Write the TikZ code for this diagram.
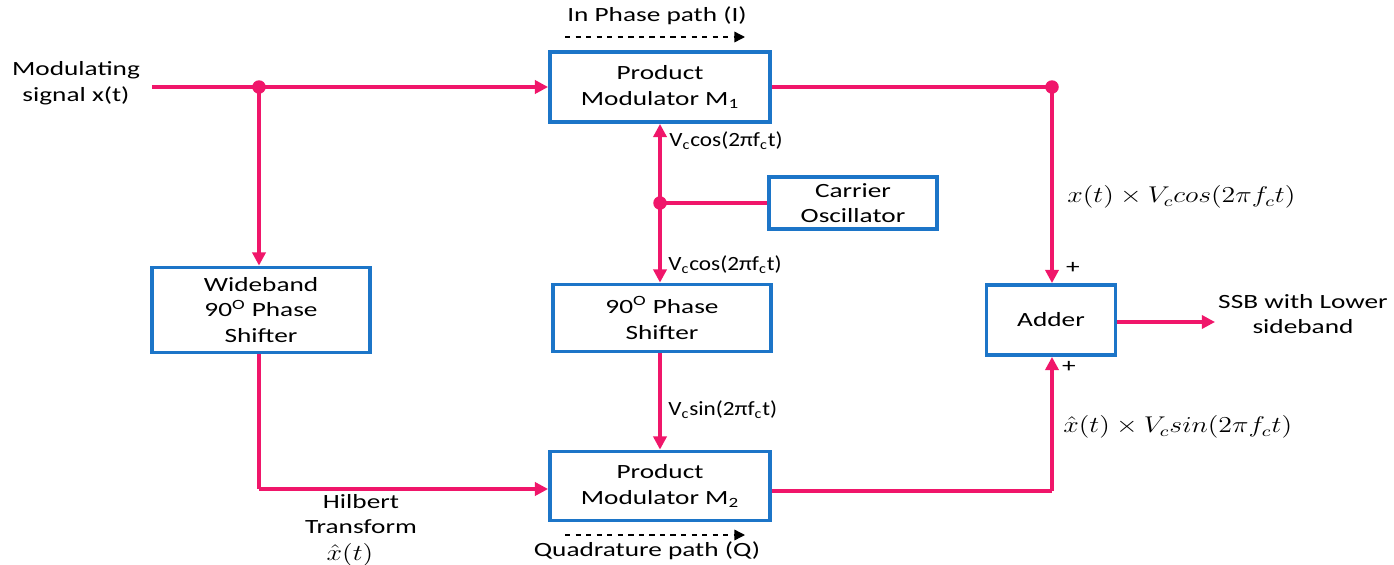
\documentclass[tikz,border=0pt]{standalone}
\usepackage{fontspec}
\usepackage{graphicx}
\setmainfont{Carlito}[FakeStretch=1.35]
\newfontfamily\vcfont{Carlito}[FakeStretch=1.15]
\usetikzlibrary{arrows.meta}
\definecolor{sig}{HTML}{F0166A}
\definecolor{boxb}{HTML}{1C75C8}
\newcommand{\wmath}[1]{\scalebox{1.32}[1.08]{$#1$}}
\begin{document}
\begin{tikzpicture}[x=0.02cm,y=-0.02cm,
  font=\fontsize{11.5}{14.5}\selectfont,
  blk/.style={draw=boxb,line width=2.2pt,fill=white,rectangle,align=center,inner sep=2pt},
  wire/.style={draw=sig,line width=1.8pt},
  arr/.style={wire,-{Triangle[length=7.5pt,width=7.5pt]}},
  dot/.style={circle,fill=sig,inner sep=0pt,minimum size=0.27cm},
  lbl/.style={align=center,inner sep=0pt},
  dasharr/.style={draw=black,dashed,line width=0.8pt,-{Triangle[length=6pt,width=6pt]}}]
\useasboundingbox (0,0) rectangle (1394,565);

% blocks
\node[blk,minimum width=4.4cm,minimum height=1.4cm] (m1) at (660,87) {Product\\Modulator M\textsubscript{1}};
\node[blk,minimum width=3.36cm,minimum height=1.04cm] (osc) at (853,203) {Carrier\\Oscillator};
\node[blk,minimum width=4.36cm,minimum height=1.34cm] (ps) at (662,318) {90\textsuperscript{O} Phase\\Shifter};
\node[blk,minimum width=4.36cm,minimum height=1.7cm] (wb) at (261,310) {Wideband\\90\textsuperscript{O} Phase\\Shifter};
\node[blk,minimum width=4.4cm,minimum height=1.38cm] (m2) at (660,486) {Product\\Modulator M\textsubscript{2}};
\node[blk,minimum width=2.58cm,minimum height=1.4cm] (add) at (1051,320) {Adder};

% coordinates
\coordinate (in) at (152,87);
\node[dot] (d1) at (259,87) {};
\node[dot] (d2) at (660,203) {};
\node[dot] (d3) at (1052,87) {};
\coordinate (c1) at (259,489);
\coordinate (c2) at (1052,491);
\coordinate (out) at (1215,322);

% texts
\node[lbl] (mod) at (76,83) {Modulating\\signal x(t)};
\node[lbl] (ssb) at (1303,314) {SSB with Lower\\sideband};
\node[lbl] (ip) at (657,16) {In Phase path (I)};
\node[lbl] (qp) at (647,551) {Quadrature path (Q)};
\node[lbl,anchor=west] (vc1) at (669,141) {\vcfont V\textsubscript{c}cos(2πf\textsubscript{c}t)};
\node[lbl,anchor=west] (vc2) at (668,265) {\vcfont V\textsubscript{c}cos(2πf\textsubscript{c}t)};
\node[lbl,anchor=west] (vs) at (668,410) {\vcfont V\textsubscript{c}sin(2πf\textsubscript{c}t)};
\node[lbl,anchor=west] (xc) at (1067,197) {\wmath{x(t)\times V_c cos(2\pi f_c t)}};
\node[lbl,anchor=west] (xs) at (1063,427) {\wmath{\hat{x}(t)\times V_c sin(2\pi f_c t)}};
\node[lbl] (p1) at (1073,268) {+};
\node[lbl] (p2) at (1069,367) {+};
\node[lbl] (hil) at (361,514) {Hilbert\\Transform};
\node[lbl] (hx) at (350,555) {\wmath{\hat{x}(t)}};

% dashed path arrows
\coordinate (ia) at (565,37); \coordinate (ib) at (745,37);
\coordinate (qa) at (565,535); \coordinate (qb) at (745,535);
\draw[dasharr] (ia) -- (ib);
\draw[dasharr] (qa) -- (qb);

% connectors
\draw[arr] (in) -- (m1.west);
\draw[arr] (d1.center) -- (wb.north -| d1);
\draw[wire] (wb.south -| c1) -- (c1);
\draw[arr] (c1) -- (m2.west |- c1);
\draw[wire] (m1.east) -- (d3.center);
\draw[arr] (d3.center) -- (add.north -| d3);
\draw[wire] (m2.east |- c2) -- (c2);
\draw[arr] (c2) -- (add.south -| c2);
\draw[wire] (osc.west) -- (d2.center);
\draw[arr] (d2.center) -- (m1.south);
\draw[arr] (d2.center) -- (ps.north -| d2);
\draw[arr] (ps.south -| d2) -- (m2.north);
\draw[arr] (add.east |- out) -- (out);
\end{tikzpicture}
\end{document}
